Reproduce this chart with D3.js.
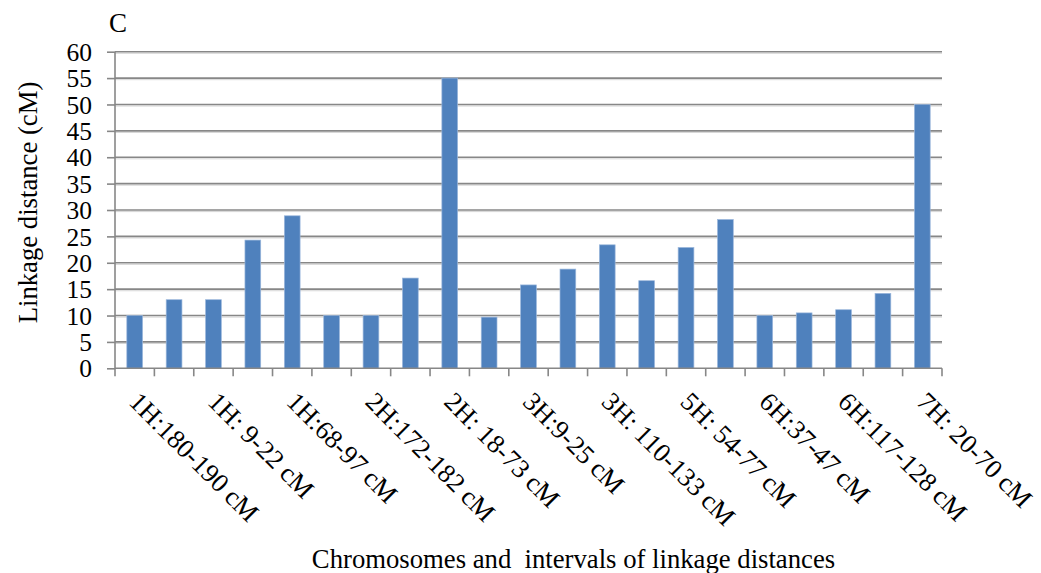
<!DOCTYPE html>
<html>
<head>
<meta charset="utf-8">
<script src="https://cdn.jsdelivr.net/npm/d3@7"></script>
<style>
  html, body { margin: 0; padding: 0; background: #fff; }
  svg { display: block; }
  text { font-family: "Liberation Serif", "Times New Roman", serif; fill: #000; }
</style>
</head>
<body>
<svg id="chart" width="1041" height="573"></svg>
<script>
// Chromosome intervals; only every second one carries a label on the axis
const intervalLabels = [
  "1H:180-190 cM", "", "1H: 9-22 cM", "", "1H:68-97 cM", "",
  "2H:172-182 cM", "", "2H: 18-73 cM", "", "3H:9-25 cM", "",
  "3H: 110-133 cM", "", "5H: 54-77 cM", "", "6H:37-47 cM", "",
  "6H:117-128 cM", "", "7H: 20-70 cM"
];
// Linkage distance per interval (cM)
const distances = [
  10, 13, 13, 24.3, 28.9, 10, 10, 17.1, 55, 9.7, 15.8,
  18.8, 23.4, 16.6, 22.9, 28.2, 10, 10.5, 11.1, 14.2, 50
];
const yTicks = [0, 5, 10, 15, 20, 25, 30, 35, 40, 45, 50, 55, 60];

const svg = d3.select("#chart");
const plotLeft = 115, plotRight = 942, plotTop = 51.7, plotBottom = 368.3;

const xBand = d3.scaleBand()
  .domain(d3.range(distances.length))
  .range([plotLeft, plotRight]);
const x = d3.scaleBand()
  .domain(d3.range(distances.length))
  .range([plotLeft, plotRight])
  .paddingInner(0.6)
  .paddingOuter(0.3);
const y = d3.scaleLinear().domain([0, 60]).range([plotBottom, plotTop]);

const gridColor = "#878787";

// horizontal gridlines with a faint shadow line beneath
const grid = svg.append("g");
grid.selectAll("line.shadow")
  .data(yTicks.filter(d => d > 0))
  .join("line")
  .attr("class", "shadow")
  .attr("x1", plotLeft).attr("x2", plotRight)
  .attr("y1", d => y(d) + 1.6).attr("y2", d => y(d) + 1.6)
  .attr("stroke", "#d6d6d6").attr("stroke-width", 1);
grid.selectAll("line.major")
  .data(yTicks.filter(d => d > 0))
  .join("line")
  .attr("class", "major")
  .attr("x1", plotLeft).attr("x2", plotRight)
  .attr("y1", d => y(d)).attr("y2", d => y(d))
  .attr("stroke", gridColor).attr("stroke-width", 1.6);

// bars
svg.append("g")
  .selectAll("rect")
  .data(distances)
  .join("rect")
  .attr("x", (d, i) => x(i))
  .attr("width", x.bandwidth())
  .attr("y", d => y(d))
  .attr("height", d => y(0) - y(d))
  .attr("fill", "#4F81BD")
  .attr("stroke", "#9bb7dc")
  .attr("stroke-width", 0.7);

// y axis
const yAxis = d3.axisLeft(y)
  .tickValues(yTicks)
  .tickSize(8)
  .tickPadding(15)
  .tickFormat(d3.format("d"));
const gy = svg.append("g")
  .attr("transform", `translate(${plotLeft},0)`)
  .call(yAxis);
gy.select(".domain").attr("stroke", gridColor).attr("stroke-width", 1.6)
  .attr("d", `M0,${plotTop}V${plotBottom}`);
gy.selectAll(".tick line").attr("stroke", gridColor).attr("stroke-width", 1.6);
gy.selectAll(".tick text")
  .style("font-size", "25.5px")
  .attr("dy", "0.34em");

// x axis: ticks at interval boundaries
const boundaries = d3.range(distances.length + 1).map(i => plotLeft + i * xBand.bandwidth());
const gx = svg.append("g");
gx.append("line")
  .attr("x1", plotLeft).attr("x2", plotRight)
  .attr("y1", plotBottom).attr("y2", plotBottom)
  .attr("stroke", gridColor).attr("stroke-width", 1.6);
gx.selectAll("line.tick")
  .data(boundaries)
  .join("line")
  .attr("class", "tick")
  .attr("x1", d => d).attr("x2", d => d)
  .attr("y1", plotBottom).attr("y2", plotBottom + 8)
  .attr("stroke", gridColor).attr("stroke-width", 1.6);

// rotated interval labels
gx.selectAll("text")
  .data(intervalLabels.map((label, i) => ({ label, i })).filter(d => d.label))
  .join("text")
  .attr("transform", d => {
    const cx = xBand(d.i) + xBand.bandwidth() / 2;
    return `translate(${cx - 7},${plotBottom + 35}) rotate(45)`;
  })
  .style("font-size", "26.5px")
  .style("white-space", "pre")
  .text(d => d.label);

// axis titles
svg.append("text")
  .attr("transform", `translate(36.7,${(82 + 323) / 2}) rotate(-90)`)
  .attr("text-anchor", "middle")
  .style("font-size", "26.7px")
  .text("Linkage distance (cM)");

svg.append("text")
  .attr("x", 573.5).attr("y", 567.5)
  .attr("text-anchor", "middle")
  .style("font-size", "26.7px")
  .style("white-space", "pre")
  .text("Chromosomes and  intervals of linkage distances");

// panel letter
svg.append("text")
  .attr("x", 109).attr("y", 31.7)
  .style("font-size", "27px")
  .text("C");
</script>
</body>
</html>
